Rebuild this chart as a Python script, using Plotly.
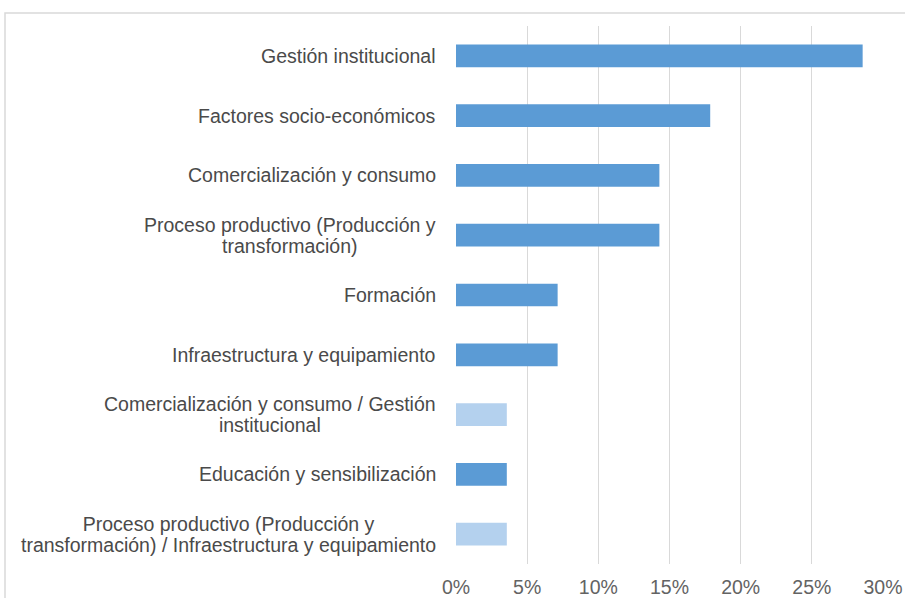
import plotly.graph_objects as go

categories = [
    "Gestión institucional",
    "Factores socio-económicos",
    "Comercialización y consumo",
    "Proceso productivo (Producción y<br>transformación)",
    "Formación",
    "Infraestructura y equipamiento",
    "Comercialización y consumo / Gestión<br>institucional",
    "Educación y sensibilización",
    "Proceso productivo (Producción y<br>transformación) / Infraestructura y equipamiento",
]
values = [28.57, 17.86, 14.29, 14.29, 7.14, 7.14, 3.57, 3.57, 3.57]
highlight = [False, False, False, False, False, False, True, False, True]
tick_vals = [0, 5, 10, 15, 20, 25, 30]
tick_text = ["0%", "5%", "10%", "15%", "20%", "25%", "30%"]

dark = "#5B9BD5"
light = "#B4D1EE"
colors = [light if h else dark for h in highlight]
FONT = "Liberation Sans, Arial, sans-serif"

fig = go.Figure()
fig.add_trace(go.Bar(
    x=values, y=categories, orientation="h",
    marker=dict(color=colors, line=dict(width=0)),
    hoverinfo="x+y",
))

for c in categories:
    fig.add_annotation(
        x=0, xref="paper", y=c, yref="y",
        text="<span style='font-size:19.5px'>" + c.replace("<br>", "</span><br><span style='font-size:19.5px'>") + "</span>",
        showarrow=False, xanchor="right", xshift=-18,
        align="center", font=dict(size=16, color="#4A4A4A", family=FONT),
    )

fig.update_layout(
    width=905, height=598,
    margin=dict(l=456, r=22, t=26, b=34, autoexpand=False),
    paper_bgcolor="white", plot_bgcolor="white",
    bargap=0.62,
    showlegend=False,
    font=dict(family=FONT, color="#595959"),
    xaxis=dict(
        range=[0, 30], tickvals=tick_vals, ticktext=tick_text,
        showgrid=True, gridcolor="#D9D9D9", gridwidth=1.3,
        zeroline=False, showline=False, ticks="",
        tickfont=dict(size=19.5, color="#636363"),
        ticklabelstandoff=9, automargin=False,
    ),
    yaxis=dict(
        autorange="reversed", showticklabels=False, showgrid=False,
        zeroline=False, showline=False, ticks="", automargin=False,
    ),
    shapes=[
        dict(type="rect", xref="paper", yref="paper",
             x0=-451 / 427, x1=1.2, y0=-0.2, y1=1 + 13 / 538,
             line=dict(color="#D9D9D9", width=1.5), fillcolor="rgba(0,0,0,0)", layer="below"),
    ],
)

fig.write_html(
    "out.html",
    config={"displayModeBar": False},
    post_script="document.body.style.margin='0';document.body.style.overflow='hidden';",
)
